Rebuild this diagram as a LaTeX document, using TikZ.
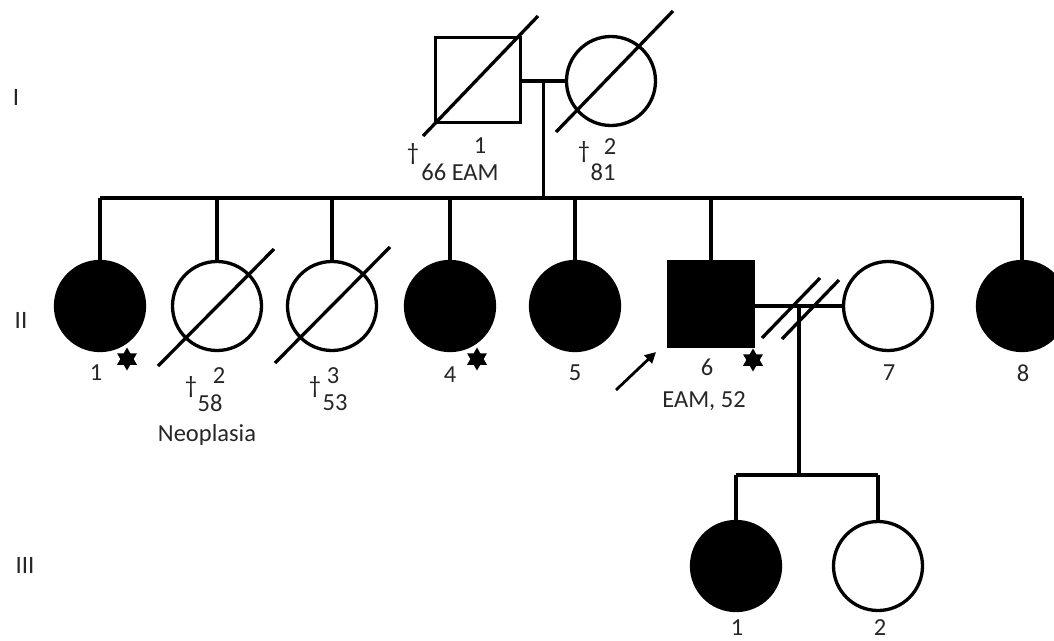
\documentclass[tikz,border=0pt]{standalone}
\usepackage{fontspec}
\setmainfont{Carlito}
\usetikzlibrary{arrows.meta,calc,shapes.geometric}
\begin{document}
\begin{tikzpicture}[x=1pt,y=-1pt,
  ln/.style={line width=3.3pt},
  fem/.style={circle,draw,line width=3.3pt,minimum size=89pt,inner sep=0pt},
  mal/.style={rectangle,draw,line width=3.3pt,minimum size=85pt,inner sep=0pt},
  aff/.style={fill=black},
  probstar/.style={star,star points=6,star point ratio=1.732,fill=black,minimum size=23pt,inner sep=0pt},
  lbl/.style={font=\fontsize{24.5}{27}\selectfont,inner sep=0pt,text=black!85},
  gen/.style={font=\fontsize{25}{27}\selectfont,inner sep=0pt,text=black!85}]
\useasboundingbox (0,0) rectangle (1054,640);
\clip (0,0) rectangle (1054,640);
% generation labels
\node[gen] (gI) at (16,97) {I};
\node[gen] (gII) at (21,320) {II};
\node[gen] (gIII) at (25,565) {III};
% generation I
\node[mal] (i1) at (478,80) {};
\node[fem] (i2) at (611,81) {};
\draw[ln] (i1.east |- i2.west) -- (i2.west);
\draw[ln] ($(i1)+(-55,56)$) -- ($(i1)+(60,-64)$);
\draw[ln] ($(i2)+(-55,51)$) -- ($(i2)+(62,-70)$);
\coordinate (m1) at ($(i1.east |- i2.west)!0.5!(i2.west)$);
\coordinate (s1) at (m1 |- 0,198);
\draw[ln] (m1) -- (s1);
\node[lbl] (t11) at (480,146) {1};
\node[lbl] (d11) at (413,154) {†};
\node[lbl] (t11b) at (460,172) {66 EAM};
\node[lbl] (d12) at (584,152) {†};
\node[lbl] (t12) at (610,147) {2};
\node[lbl] (t12b) at (603,172) {81};
% generation II
\node[fem,aff] (ii1) at (100,306) {};
\node[fem] (ii2) at (217,306) {};
\node[fem] (ii3) at (332,306) {};
\node[fem,aff] (ii4) at (450,306) {};
\node[fem,aff] (ii5) at (575,306) {};
\node[mal,aff] (ii6) at (711,304) {};
\node[fem] (ii7) at (888,306) {};
\node[fem,aff] (ii8) at (1022,306) {};
\coordinate (sl) at (ii1 |- s1);
\coordinate (sr) at (ii8 |- s1);
\draw[ln] (sl) -- (sr);
\foreach \c in {ii1,ii2,ii3,ii4,ii5,ii6,ii8}{
  \draw[ln] (\c.north) -- (\c.north |- s1);
}
\draw[ln] ($(ii2)+(-59,60)$) -- ($(ii2)+(57,-57)$);
\draw[ln] ($(ii3)+(-57,57)$) -- ($(ii3)+(58,-59)$);
% marriage II-6 and II-7 with divorce
\draw[ln] (ii6.east |- ii7.west) -- (ii7.west);
\coordinate (m2) at (799,306);
\draw[ln] ($(m2)+(-37,32)$) -- ($(m2)+(21,-28)$);
\draw[ln] ($(m2)+(-17,33)$) -- ($(m2)+(40,-26)$);
\coordinate (s2) at (m2 |- 0,475);
\draw[ln] (m2) -- (s2);
% stars
\node[probstar] (st1) at (127,359) {};
\node[probstar] (st4) at (477,359) {};
\node[probstar] (st6) at (753,360) {};
% proband arrow
\coordinate (pa1) at (616,390);
\coordinate (pa2) at (656,352);
\draw[line width=2.8pt,-{Triangle[length=11pt,width=11pt]}] (pa1) -- (pa2);
% labels II
\node[lbl] (t21) at (96,373) {1};
\node[lbl] (d22) at (191,387) {†};
\node[lbl] (t22) at (219,376) {2};
\node[lbl] (t22b) at (210,403) {58};
\node[lbl] (t22c) at (207,435) {Neoplasia};
\node[lbl] (d23) at (315,387) {†};
\node[lbl] (t23) at (333,376) {3};
\node[lbl] (t23b) at (335,403) {53};
\node[lbl] (t24) at (450,375) {4};
\node[lbl] (t25) at (575,373) {5};
\node[lbl] (t26) at (707,367) {6};
\node[lbl] (t26b) at (704,401) {EAM, 52};
\node[lbl] (t27) at (889,373) {7};
\node[lbl] (t28) at (1023,373) {8};
% generation III
\node[fem,aff] (iii1) at (736,566) {};
\node[fem] (iii2) at (878,566) {};
\coordinate (s3l) at (iii1 |- s2);
\coordinate (s3r) at (iii2 |- s2);
\draw[ln] (s3l) -- (s3r);
\draw[ln] (iii1.north) -- (s3l);
\draw[ln] (iii2.north) -- (s3r);
\node[lbl] (t31) at (737,628) {1};
\node[lbl] (t32) at (880,628) {2};
\end{tikzpicture}
\end{document}
